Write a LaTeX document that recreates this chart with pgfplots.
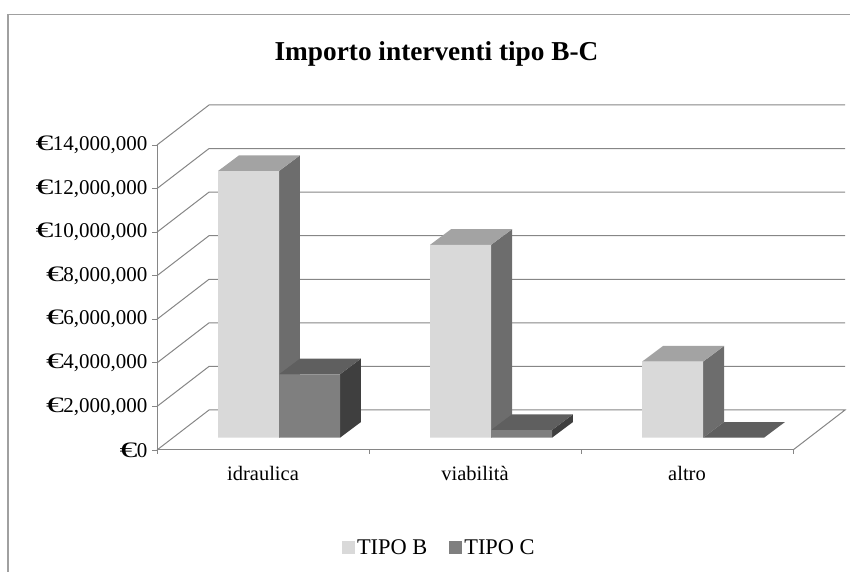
\documentclass[border=0pt]{standalone}
\usepackage{fontspec}
\setmainfont{Liberation Serif}
\usepackage{graphicx}
\usepackage{pgfplots}
\pgfplotsset{compat=1.18}
\definecolor{gridc}{HTML}{868686}
\definecolor{framec}{HTML}{A0A0A0}
\definecolor{bf}{HTML}{D9D9D9}
\definecolor{bt}{HTML}{A3A3A3}
\definecolor{bs}{HTML}{6D6D6D}
\definecolor{cf}{HTML}{7F7F7F}
\definecolor{ct}{HTML}{5F5F5F}
\definecolor{cs}{HTML}{3F3F3F}
\newcommand\E{\scalebox{1.7}[1.05]{€}\kern-0.5pt}
\begin{document}
\begin{tikzpicture}[x=1pt,y=1pt]
\path[use as bounding box] (0,0) rectangle (850,572);
\draw[framec,line width=1.6pt] (8,0) -- (8,557.5) -- (850,557.5);
\node[font=\fontsize{27.3}{30}\selectfont\bfseries,anchor=center] at (436.5,518) {Importo interventi tipo B-C};
% structure: floor, walls, tick labels
\begin{axis}[
  at={(157pt,122pt)},anchor=south west,scale only axis,width=636pt,height=305pt,
  xmin=0,xmax=3,ymin=0,ymax=14000000,clip=false,
  scaled y ticks=false,
  axis lines=left,axis line style={-,draw=gridc,line width=1pt},
  tick align=outside,
  ytick={0,2000000,4000000,6000000,8000000,10000000,12000000,14000000},
  yticklabels={\E 0,{\E 2,000,000},{\E 4,000,000},{\E 6,000,000},{\E 8,000,000},{\E 10,000,000},{\E 12,000,000},{\E 14,000,000}},
  xtick={0.5,1.5,2.5},xticklabels={idraulica,viabilità,altro},
  minor xtick={0,1,2,3},
  major x tick style={draw=none},
  minor x tick style={draw=gridc,line width=0.8pt},
  major y tick style={draw=gridc,line width=0.8pt},
  major tick length=5pt,minor tick length=4pt,
  yticklabel style={font=\fontsize{21}{24}\selectfont,xshift=-1pt},
  xticklabel style={font=\fontsize{20.5}{24}\selectfont,yshift=-8pt},
]
\addplot[gridc,line width=1pt,no marks] coordinates {(0,0)(0.2453,1836000)(3.2453,1836000)(3,0)};
\addplot[gridc,line width=1pt,no marks] coordinates {(0,2000000)(0.2453,3836000)(3.2453,3836000)};
\addplot[gridc,line width=1pt,no marks] coordinates {(0,4000000)(0.2453,5836000)(3.2453,5836000)};
\addplot[gridc,line width=1pt,no marks] coordinates {(0,6000000)(0.2453,7836000)(3.2453,7836000)};
\addplot[gridc,line width=1pt,no marks] coordinates {(0,8000000)(0.2453,9836000)(3.2453,9836000)};
\addplot[gridc,line width=1pt,no marks] coordinates {(0,10000000)(0.2453,11836000)(3.2453,11836000)};
\addplot[gridc,line width=1pt,no marks] coordinates {(0,12000000)(0.2453,13836000)(3.2453,13836000)};
\addplot[gridc,line width=1pt,no marks] coordinates {(0,14000000)(0.2453,15836000)(3.2453,15836000)};
\end{axis}
% bars: baseline lies on the floor, inset from the front edge
\begin{axis}[
  at={(157pt,122pt)},anchor=south west,scale only axis,width=636pt,height=305pt,
  xmin=-0.0755,xmax=2.9245,ymin=-564600,ymax=13435400,clip=false,hide axis,
  legend columns=2,
  legend style={at={(0.2909,-0.32)},anchor=west,draw=none,fill=none,
    font=\fontsize{22.4}{24}\selectfont,/tikz/every even column/.append style={column sep=20pt},
    inner sep=0pt,outer sep=0pt},
  legend image code/.code={\fill[#1] (0pt,-6.5pt) rectangle (13pt,6.5pt);},
]
% TIPO B side and top faces
\addplot[fill=bs,draw=none,no marks,forget plot] coordinates {(0.5,0)(0.599,720000)(0.599,12960000)(0.5,12240000)};
\addplot[fill=bt,draw=none,no marks,forget plot] coordinates {(0.2123,12240000)(0.3113,12960000)(0.599,12960000)(0.5,12240000)};
\addplot[fill=bs,draw=none,no marks,forget plot] coordinates {(1.5,0)(1.599,720000)(1.599,9570000)(1.5,8850000)};
\addplot[fill=bt,draw=none,no marks,forget plot] coordinates {(1.2123,8850000)(1.3113,9570000)(1.599,9570000)(1.5,8850000)};
\addplot[fill=bs,draw=none,no marks,forget plot] coordinates {(2.5,0)(2.599,720000)(2.599,4210000)(2.5,3490000)};
\addplot[fill=bt,draw=none,no marks,forget plot] coordinates {(2.2123,3490000)(2.3113,4210000)(2.599,4210000)(2.5,3490000)};
% TIPO C side and top faces
\addplot[fill=cs,draw=none,no marks,forget plot] coordinates {(0.7877,0)(0.8867,720000)(0.8867,3630000)(0.7877,2910000)};
\addplot[fill=ct,draw=none,no marks,forget plot] coordinates {(0.5,2910000)(0.599,3630000)(0.8867,3630000)(0.7877,2910000)};
\addplot[fill=cs,draw=none,no marks,forget plot] coordinates {(1.7877,0)(1.8867,720000)(1.8867,1070000)(1.7877,350000)};
\addplot[fill=ct,draw=none,no marks,forget plot] coordinates {(1.5,350000)(1.599,1070000)(1.8867,1070000)(1.7877,350000)};
\addplot[fill=ct,draw=none,no marks,forget plot] coordinates {(2.5,0)(2.599,720000)(2.8867,720000)(2.7877,0)};
% front faces
\addplot[ybar,bar width=61pt,bar shift=-30.5pt,fill=bf,draw=none] coordinates {(0.5,12240000)(1.5,8850000)(2.5,3490000)};
\addlegendentry{TIPO B}
\addplot[ybar,bar width=61pt,bar shift=30.5pt,fill=cf,draw=none] coordinates {(0.5,2910000)(1.5,350000)(2.5,0)};
\addlegendentry{TIPO C}
\end{axis}
\end{tikzpicture}
\end{document}
